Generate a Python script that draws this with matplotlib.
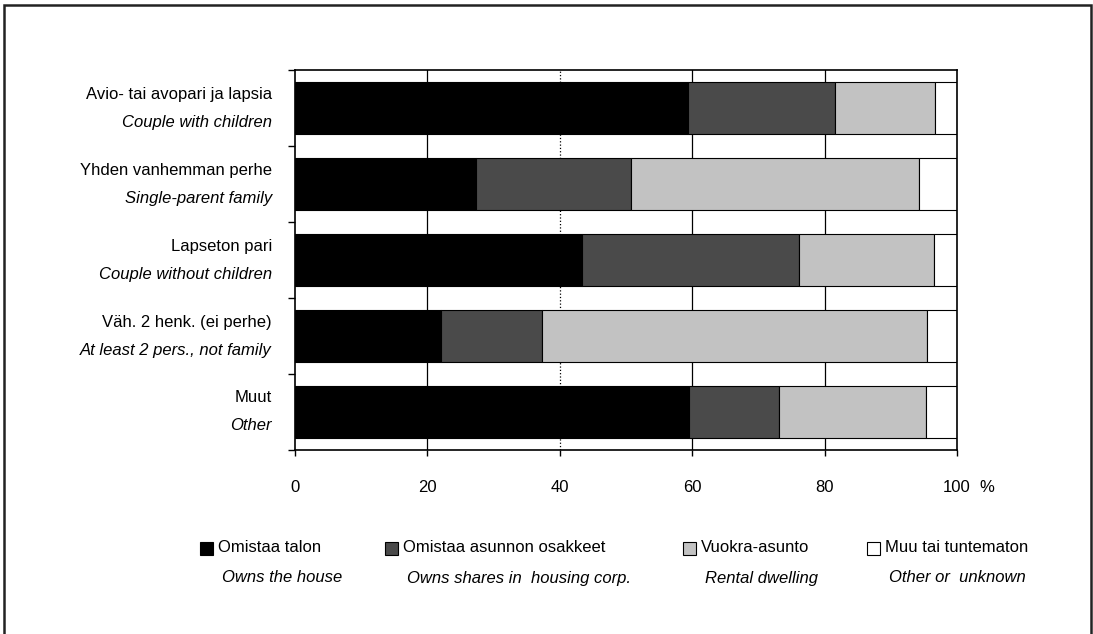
## Asumismuoto perhetyypin mukaan - stacked horizontal bars
import matplotlib
matplotlib.use("Agg")
import matplotlib.pyplot as plt
from matplotlib import font_manager
from matplotlib.patches import Rectangle

## pick a narrow font if we have one
names = {f.name for f in font_manager.fontManager.ttflist}
fam = "Liberation Sans Narrow" if "Liberation Sans Narrow" in names else "Liberation Sans"
plt.rcParams["font.family"] = fam

## data (percent), rows from top to bottom
groups_fi = ["Avio- tai avopari ja lapsia", "Yhden vanhemman perhe", "Lapseton pari",
             "Väh. 2 henk. (ei perhe)", "Muut"]
groups_en = ["Couple with children", "Single-parent family", "Couple without children",
             "At least 2 pers., not family", "Other"]
owns_house = [59.4, 27.4, 43.4, 22.1, 59.5]
owns_shares = [22.1, 23.4, 32.8, 15.2, 13.6]
rental = [15.2, 43.4, 20.4, 58.2, 22.2]
other = [3.3, 5.8, 3.4, 4.5, 4.7]

series = [owns_house, owns_shares, rental, other]
series_fi = ["Omistaa talon", "Omistaa asunnon osakkeet", "Vuokra-asunto", "Muu tai tuntematon"]
series_en = ["Owns the house", "Owns shares in  housing corp.", "Rental dwelling", "Other or  unknown"]
colors = ["#000000", "#4a4a4a", "#c2c2c2", "#ffffff"]

xticks = [0, 20, 40, 60, 80, 100]

fig = plt.figure(figsize=(10.93, 6.34), dpi=100)
ax = fig.add_axes([295 / 1093, 1 - 450 / 634, 662 / 1093, 380 / 634])

## grid lines behind the bars
for x in xticks[1:-1]:
    ls = ":" if x == 40 else "-"
    ax.axvline(x, color="black", lw=0.9, ls=ls, zorder=0)

ypos = list(range(len(groups_fi)))
left = [0] * len(ypos)
for vals, c in zip(series, colors):
    ax.barh(ypos, vals, left=left, height=0.68, color=c, edgecolor="black", linewidth=0.8, zorder=2)
    left = [l + v for l, v in zip(left, vals)]

ax.set_xlim(0, 100)
ax.set_ylim(len(ypos) - 0.5, -0.5)

ax.set_xticks(xticks)
ax.set_xticklabels([str(x) for x in xticks], fontsize=12)
ax.tick_params(axis="x", direction="out", length=4.5, width=1, pad=17)
ax.set_yticks([y - 0.5 for y in range(len(ypos) + 1)])
ax.set_yticklabels([])
ax.tick_params(axis="y", direction="out", length=5, width=1)
for s in ax.spines.values():
    s.set_linewidth(1.2)

## percent sign next to the last tick label
ax.annotate("%", xy=(1, 0), xycoords="axes fraction", xytext=(22, -37), textcoords="offset pixels",
            ha="left", va="center", fontsize=12)

## two line group labels
for y, fi, en in zip(ypos, groups_fi, groups_en):
    ax.annotate(fi, xy=(0, y), xycoords=("axes fraction", "data"), xytext=(-23, 14),
                textcoords="offset pixels", ha="right", va="center", fontsize=12)
    ax.annotate(en, xy=(0, y), xycoords=("axes fraction", "data"), xytext=(-23, -14),
                textcoords="offset pixels", ha="right", va="center", fontsize=12, style="italic")

## legend drawn by hand
leg_x = [200, 385, 683, 867]
for lx, c, fi, en in zip(leg_x, colors, series_fi, series_en):
    fig.patches.append(Rectangle((lx / 1093, 1 - 555 / 634), 13 / 1093, 13 / 634,
                                 transform=fig.transFigure, facecolor=c, edgecolor="black", lw=0.8))
    fig.text((lx + 18) / 1093, 1 - 548 / 634, fi, ha="left", va="center", fontsize=12)
    fig.text((lx + 22) / 1093, 1 - 578 / 634, en, ha="left", va="center", fontsize=12, style="italic")

## frame round the whole picture
fig.patches.append(Rectangle((4 / 1093, -0.05), 1087 / 1093, 1.05 - 5 / 634,
                             transform=fig.transFigure, fill=False, edgecolor="#222222", lw=1.8))

fig.savefig("out.png", dpi=100)
